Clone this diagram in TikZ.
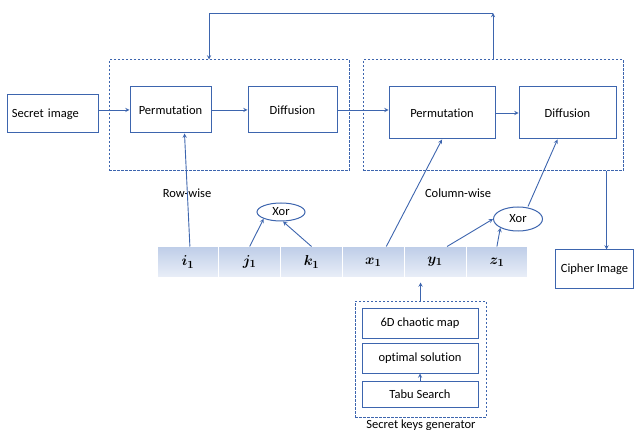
\documentclass[tikz,border=0pt]{standalone}
\usepackage{fontspec}
\setmainfont[Ligatures=NoCommon]{Carlito}
\usepackage{amsmath,bm}
\usetikzlibrary{shapes.geometric}
\definecolor{lineblue}{HTML}{3D65AE}
\definecolor{keytop}{HTML}{BFCEE8}
\definecolor{keybot}{HTML}{E9EEF8}
\begin{document}
\begin{tikzpicture}[>=stealth,x=1pt,y=-1pt,color=lineblue,line width=0.9pt,
		font=\fontsize{12.5}{15}\selectfont,
		blockbox/.style={rectangle,draw=lineblue,line width=1pt,inner sep=0pt,text=black},
		dashbox/.style={rectangle,draw=lineblue,line width=1pt,dash pattern=on 2.5pt off 1.5pt,inner sep=0pt},
		xorbox/.style={ellipse,draw=lineblue,line width=1pt,inner sep=0pt,text=black},
		keycell/.style={rectangle,draw=white,line width=1pt,top color=keytop,bottom color=keybot,
			minimum width=61.8,minimum height=30,inner sep=0pt,text=black,font=\boldmath\fontsize{15}{17}\selectfont}]
	\useasboundingbox (0,0) rectangle (634,430);
	% row-wise and column-wise stages
	\node[dashbox,minimum width=240,minimum height=111] (rowbox) at (229,115.5) {};
	\node[dashbox,minimum width=260,minimum height=111] (colbox) at (493,115.5) {};
	\node[blockbox,minimum width=91,minimum height=38,text width=81,inner xsep=5pt,align=left] (secret) at (52.5,114) {Secret image};
	\node[blockbox,minimum width=81,minimum height=46] (perm1) at (170.5,110) {Permutation};
	\node[blockbox,minimum width=89,minimum height=46] (diff1) at (292.5,110) {Diffusion};
	\node[blockbox,minimum width=106,minimum height=52] (perm2) at (442,113) {Permutation};
	\node[blockbox,minimum width=97,minimum height=52] (diff2) at (567.5,113) {Diffusion};
	\node[blockbox,minimum width=78,minimum height=38] (cipher) at (594.5,269) {Cipher Image};
	\node[text=black] (rowlbl) at (187,193) {Row-wise};
	\node[text=black] (collbl) at (458,193) {Column-wise};
	\draw[->] (secret.east |- perm1.west) -- (perm1.west);
	\draw[->] (perm1) -- (diff1);
	\draw[->] (diff1.east) -- (diff1.east -| perm2.west);
	\draw[->] (perm2) -- (diff2);
	% feedback loop
	\coordinate (fbR) at (493,13);
	\coordinate (fbL) at (209,13);
	\draw[->] (fbR |- colbox.north) -- (fbR);
	\draw[->] (fbR) -- (fbL) -- (fbL |- rowbox.north);
	\draw[->] ([xshift=-17pt]colbox.south east) -- ([xshift=-17pt]colbox.south east |- cipher.north);
	% key bar
	\foreach \v [count=\n] in {i,j,k,x,y,z}
		\node[keycell] (\v1) at ({157+61.8*(\n-0.5)},262) {$\v_{1}$};
	\node[xorbox,minimum width=48,minimum height=18] (xor1) at (281,212) {Xor};
	\node[xorbox,minimum width=49,minimum height=24] (xor2) at (518,219) {Xor};
	\draw[->] ([xshift=2pt]i1.north) -- ([xshift=14pt]perm1.south);
	\draw[->] (j1.north) -- (xor1.south west);
	\draw[->] (k1.north) -- ([xshift=2pt]xor1.south);
	\draw[->] ([xshift=13pt]x1.north) -- (perm2.south);
	\draw[->] ([xshift=12pt]y1.north) -- (xor2.west);
	\draw[->] (z1.north) -- (xor2.south west);
	\draw[->] ([xshift=10pt]xor2.north) -- ([xshift=-10pt]diff2.south);
	% key generator
	\node[dashbox,minimum width=131,minimum height=116] (gen) at (420.5,359) {};
	\node[blockbox,minimum width=116,minimum height=30] (map) at (420,323) {6D chaotic map};
	\node[blockbox,minimum width=116,minimum height=30] (opt) at (420,358) {optimal solution};
	\node[blockbox,minimum width=116,minimum height=26] (tabu) at (420,394) {Tabu Search};
	\node[text=black] (genlbl) at (421,425) {Secret keys generator};
	\draw[->] (tabu.north) -- (opt.south);
	\draw[->,shorten >=5pt] (gen.north) -- (gen.north |- y1.south);
\end{tikzpicture}
\end{document}
